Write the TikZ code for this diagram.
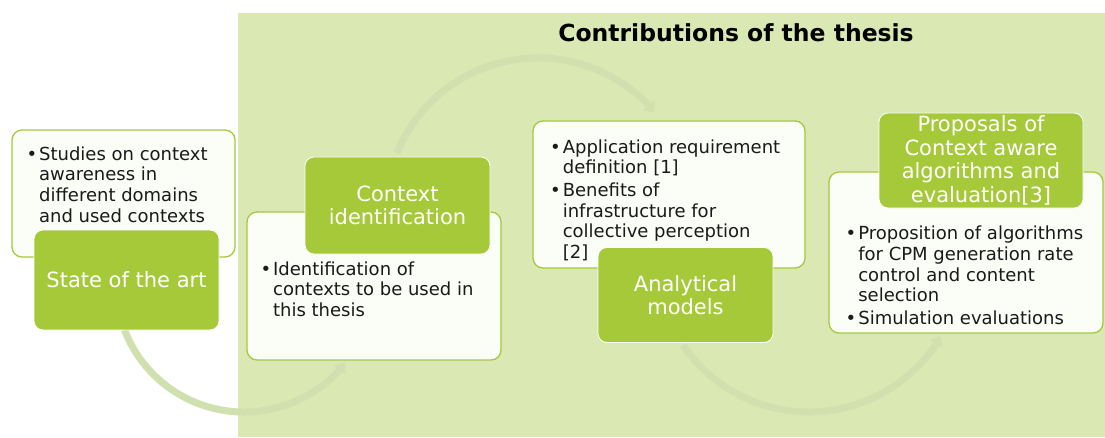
\documentclass[tikz,border=0pt]{standalone}
\usepackage{fontspec}
\setmainfont{DejaVu Sans}
\usetikzlibrary{arrows.meta}
\definecolor{bggreen}{HTML}{DAE8B4}
\definecolor{boxgreen}{HTML}{A5C939}
\definecolor{txtfill}{HTML}{FBFDF7}
\definecolor{arcgreen}{HTML}{D0E1AF}
\definecolor{txtcol}{HTML}{1A1A1A}
\newcommand{\bodyfont}{\fontsize{18}{20.7}\selectfont}
\newcommand{\blist}[1]{\begin{tabular}{@{}l@{\hspace{2pt}}l@{}}#1\end{tabular}}
\tikzset{
  txtbox/.style={draw=boxgreen, line width=1.3pt, fill=txtfill, rounded corners=10pt, inner sep=0pt},
  greenbox/.style={draw=white, line width=0.8pt, fill=boxgreen, rounded corners=9pt, inner sep=0pt,
    text=white, align=center, font=\fontsize{21}{23.5}\selectfont},
  bodytext/.style={anchor=north west, inner sep=0pt, text=txtcol, font=\bodyfont},
  flowarc/.style={draw=arcgreen, line width=7pt, -{Triangle[width=15pt,length=9pt]}},
}
\begin{document}
\begin{tikzpicture}[x=1pt,y=1pt]
\path[fill=white] (0,0) rectangle (1105,437);
\fill[bggreen] (238,0) rectangle (1105,424);
\node[font=\bfseries\fontsize{23.5}{26}\selectfont, text=black] (title) at (736,404) {Contributions of the thesis};

% circular flow arrows
\coordinate (c1) at (244,153);
\coordinate (c2) at (538,227);
\coordinate (c3) at (809,177);
\draw[flowarc] (c1) ++(201:128) arc[start angle=201, end angle=322, radius=128];
\draw[flowarc] (c2) ++(158:152) arc[start angle=158, end angle=40, radius=152];
\draw[flowarc] (c3) ++(214:152) arc[start angle=214, end angle=330, radius=152];

% text boxes
\node[txtbox, minimum width=223pt, minimum height=127pt] (b1) at (123.5,243.5) {};
\node[txtbox, minimum width=254pt, minimum height=148pt] (b2) at (374,151) {};
\node[txtbox, minimum width=272pt, minimum height=147pt] (b3) at (669,242.5) {};
\node[txtbox, minimum width=274pt, minimum height=161pt] (b4) at (966,184.5) {};

\node[bodytext] (t1) at (26.3,291.4) {\blist{\textbullet & Studies on context\\ & awareness in\\ & different domains\\ & and used contexts}};
\node[bodytext] (t2) at (260.3,176.5) {\blist{\textbullet & Identification of\\ & contexts to be used in\\ & this thesis}};
\node[bodytext] (t3) at (550,298.5) {\blist{\textbullet & Application requirement\\ & definition [1]\\[2pt] \textbullet & Benefits of\\ & infrastructure for\\ & collective perception\\ & [2]}};
\node[bodytext] (t4) at (845.5,212) {\blist{\textbullet & Proposition of algorithms\\ & for CPM generation rate\\ & control and content\\ & selection\\[2pt] \textbullet & Simulation evaluations}};

% green boxes
\node[greenbox, minimum width=185pt, minimum height=100pt] (g1) at (126.5,157) {State of the art};
\node[greenbox, minimum width=185pt, minimum height=97pt] (g2) at (397.5,231.5) {Context\\identification};
\node[greenbox, minimum width=175pt, minimum height=95pt] (g3) at (685.5,142) {Analytical\\models};
\node[greenbox, minimum width=204pt, minimum height=95pt] (g4) at (981,276.5) {Proposals of\\Context aware\\algorithms and\\evaluation[3]};
\end{tikzpicture}
\end{document}
